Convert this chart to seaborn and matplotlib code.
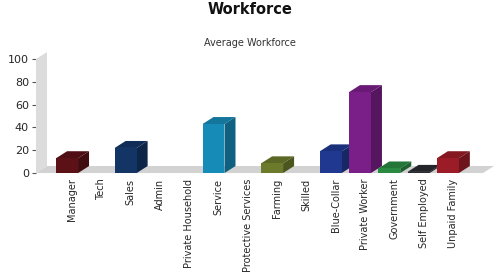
import numpy as np
import pandas as pd
import matplotlib
matplotlib.use("Agg")
import matplotlib.pyplot as plt
import seaborn as sns
from matplotlib.patches import Polygon
from matplotlib.colors import to_rgb
from matplotlib.transforms import IdentityTransform, ScaledTranslation

categories = ["Manager", "Tech", "Sales", "Admin", "Private Household", "Service",
              "Protective Services", "Farming", "Skilled", "Blue-Collar",
              "Private Worker", "Government", "Self Employed", "Unpaid Family"]
values = [13, 0, 22, 0, 0, 43, 0, 8.5, 0, 19, 71, 4, 1, 13]
colors = ["#5c1117", "#888888", "#123566", "#888888", "#888888", "#178bb8", "#888888",
          "#6b7a2b", "#888888", "#20388f", "#7a1f88", "#2a8a42", "#2a2b33", "#9b1b26"]
yticks = [0, 20, 40, 60, 80, 100]

sns.set_theme(style="white")
plt.rcParams['font.family'] = ['DejaVu Sans']

fig = plt.figure(figsize=(5, 2.8), dpi=100)
ax = fig.add_axes([0.072, 0.382, 0.894, 0.407])
df = pd.DataFrame({"cat": categories, "val": values})
sns.barplot(data=df, x="cat", y="val", hue="cat", palette=colors, legend=False,
            width=0.75, ax=ax, saturation=1)
XL = (-1.06, 14.2)
ax.set_xlim(*XL)
ax.set_ylim(0, 100)
ax.set_xlabel("")
ax.set_ylabel("")
ax.set_yticks(yticks)
ax.set_yticklabels([str(t) for t in yticks], fontsize=8)
ax.tick_params(axis="y", length=3, width=0.8, color="#555555", pad=2, left=True)
ax.tick_params(axis="x", length=0, pad=4)
shift = ScaledTranslation(5 / 100, 0, fig.dpi_scale_trans)
for lab in ax.get_xticklabels():
    lab.set_rotation(90)
    lab.set_fontsize(7.0)
    lab.set_ha("center")
    lab.set_va("top")
    lab.set_transform(lab.get_transform() + shift)
for s in ["top", "right", "bottom", "left"]:
    ax.spines[s].set_visible(False)
ax.set_facecolor("none")

fig.canvas.draw()
dx, dy = 11, 7  # depth offset in pixels
T = ax.transData
x0, y0 = T.transform((XL[0], 0))
x1, y1 = T.transform((XL[1], 100))
wall = Polygon([(x0, y0), (x0, y1), (x0 + dx, y1 + dy), (x0 + dx, y0 + dy)],
               closed=True, transform=IdentityTransform(), facecolor="#dcdcdc",
               edgecolor="none", zorder=0.5)
floor = Polygon([(x0, y0), (x0 + dx, y0 + dy), (x1 + dx, y0 + dy), (x1, y0)],
                closed=True, transform=IdentityTransform(), facecolor="#d2d2d2",
                edgecolor="none", zorder=0.6)
fig.add_artist(wall)
fig.add_artist(floor)

for p, v, c in zip(ax.patches, values, colors):
    p.set_visible(False)
    if v <= 0:
        continue
    bx0, by0 = T.transform((p.get_x(), 0))
    bx1, by1 = T.transform((p.get_x() + p.get_width(), p.get_height()))
    rgb = np.array(to_rgb(c))
    top = Polygon([(bx0, by1), (bx0 + dx, by1 + dy), (bx1 + dx, by1 + dy), (bx1, by1)],
                  closed=True, transform=IdentityTransform(), facecolor=rgb * 0.85,
                  edgecolor="none", zorder=2.5)
    side = Polygon([(bx1, by0), (bx1, by1), (bx1 + dx, by1 + dy), (bx1 + dx, by0 + dy)],
                   closed=True, transform=IdentityTransform(), facecolor=rgb * 0.7,
                   edgecolor="none", zorder=2.5)
    front = Polygon([(bx0, by0), (bx0, by1), (bx1, by1), (bx1, by0)], closed=True,
                    transform=IdentityTransform(), facecolor=c, edgecolor="none", zorder=2.6)
    fig.add_artist(top)
    fig.add_artist(side)
    fig.add_artist(front)

fig.text(0.5, 0.965, "Workforce", ha="center", va="center", fontsize=10.5,
         fontweight="bold", color="#111111")
fig.text(0.5, 0.848, "Average Workforce", ha="center", va="center", fontsize=7,
         color="#333333")

fig.savefig("out.png", dpi=100)
